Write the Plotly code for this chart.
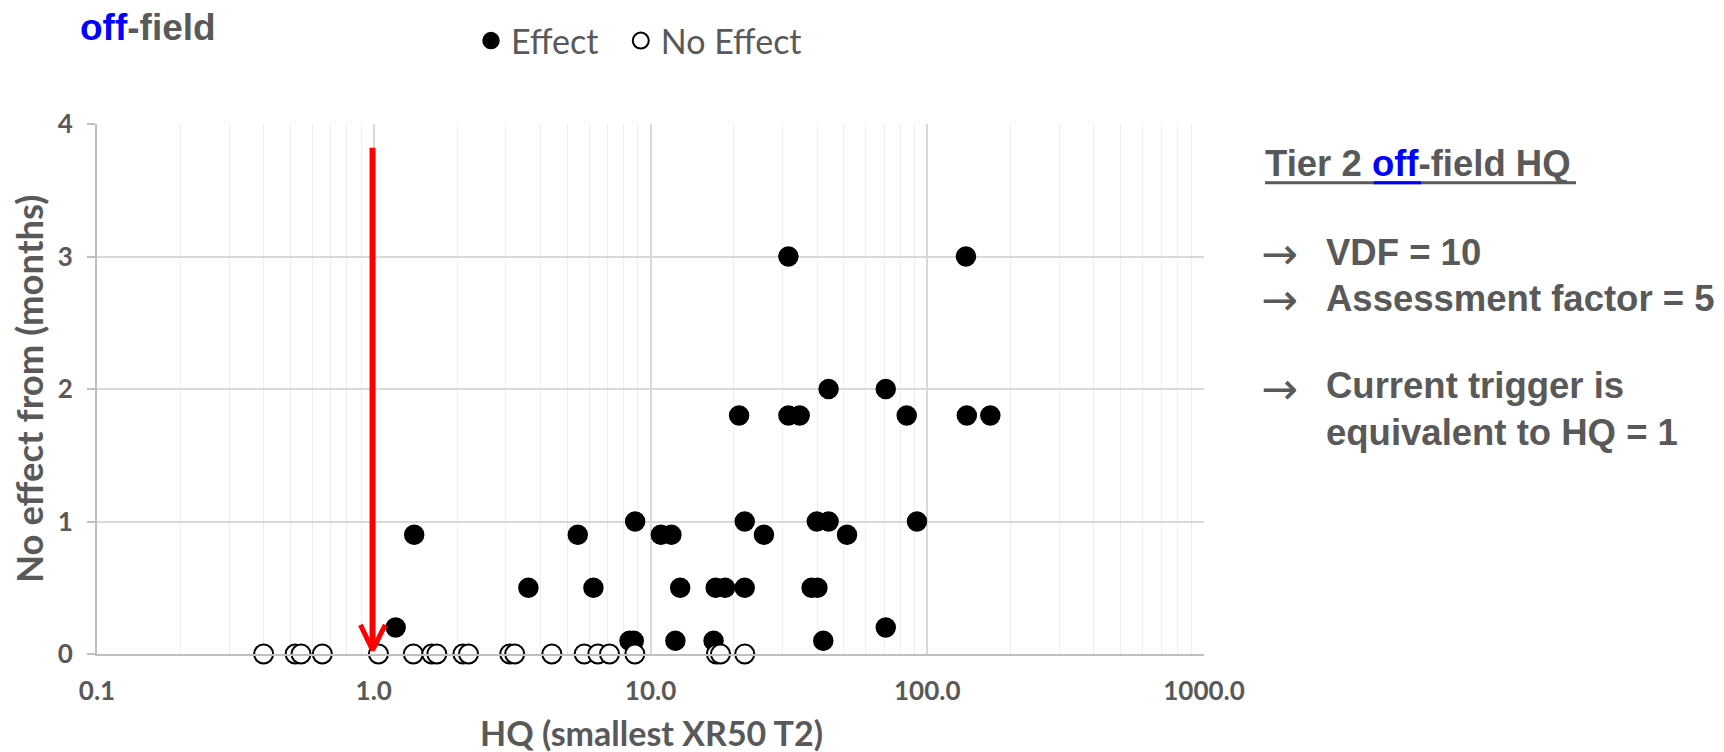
import plotly.graph_objects as go

# ---------------- data ----------------
effect_hq = [31.5, 138, 44.0, 70.8, 20.9, 31.5, 34.6, 84.3, 139, 169,
             8.8, 21.9, 39.9, 44.0, 91.8,
             1.40, 5.46, 10.9, 11.9, 25.7, 51.3,
             3.62, 6.22, 12.8, 17.2, 18.6, 21.9, 38.2, 40.1,
             1.20, 70.8,
             8.4, 8.7, 12.3, 16.9, 42.1]
effect_months = [3, 3, 2, 2, 1.8, 1.8, 1.8, 1.8, 1.8, 1.8,
                 1, 1, 1, 1, 1,
                 0.9, 0.9, 0.9, 0.9, 0.9, 0.9,
                 0.5, 0.5, 0.5, 0.5, 0.5, 0.5, 0.5, 0.5,
                 0.2, 0.2,
                 0.1, 0.1, 0.1, 0.1, 0.1]
noeffect_hq = [0.40, 0.52, 0.546, 0.652, 1.04, 1.39, 1.62, 1.69, 2.10, 2.20,
               3.10, 3.23, 4.40, 5.76, 6.45, 7.11, 8.78, 17.3, 17.9, 21.9]
noeffect_months = [0] * len(noeffect_hq)

x_tick_vals = [0.1, 1, 10, 100, 1000]
x_tick_text = ["0.1", "1.0", "10.0", "100.0", "1000.0"]
y_tick_vals = [0, 1, 2, 3, 4]
x_minor_vals = [m * 10 ** k for k in range(-1, 3) for m in range(2, 10)]

# trigger arrow (HQ = 1)
arrow_x = 0.99
arrow_top = 3.82
arrow_tip = 0.03
head_left, head_right, head_y = 0.895, 1.10, 0.22

# ---------------- layout geometry ----------------
W, H = 1724, 752
L, R, T, B = 97, 1204, 124, 654


def px(p):
    return (p - L) / (R - L)


def py(p):
    return (B - p) / (B - T)


GRAY = "#595959"
BLUE = "#0000ff"
CAL = "Lato"
ARIAL = "Liberation Sans, Arial"
NB = "\u00a0"

fig = go.Figure()
fig.add_trace(go.Scatter(
    x=effect_hq, y=effect_months, mode="markers", name="Effect" + NB * 2,
    marker=dict(size=19, color="black", line=dict(color="black", width=1.5)),
    cliponaxis=False, hoverinfo="skip"))
fig.add_trace(go.Scatter(
    x=noeffect_hq, y=noeffect_months, mode="markers", name="No Effect",
    marker=dict(size=19, color="white", line=dict(color="black", width=2)),
    cliponaxis=False, hoverinfo="skip"))
# red arrow shaft and head
fig.add_trace(go.Scatter(
    x=[arrow_x, arrow_x], y=[arrow_top, arrow_tip + 0.03], mode="lines",
    line=dict(color="#ff0000", width=6), showlegend=False, hoverinfo="skip",
    cliponaxis=False))
fig.add_trace(go.Scatter(
    x=[head_left, arrow_x, head_right], y=[head_y, arrow_tip, head_y], mode="lines",
    line=dict(color="#ff0000", width=5), showlegend=False, hoverinfo="skip",
    cliponaxis=False))

fig.update_layout(
    width=W, height=H,
    margin=dict(l=L, r=W - R, t=T, b=H - B, pad=0),
    paper_bgcolor="white", plot_bgcolor="white",
    showlegend=True,
    legend=dict(orientation="h", x=px(471), y=py(41), xanchor="left", yanchor="middle",
                font=dict(family=CAL, size=34, color=GRAY), bgcolor="rgba(0,0,0,0)"),
    xaxis=dict(type="log", range=[-1, 3], tickvals=x_tick_vals, ticktext=x_tick_text,
               showgrid=True, gridcolor="#d9d9d9", gridwidth=1.5,
               minor=dict(tickvals=x_minor_vals, showgrid=True, gridcolor="#eeeeee", gridwidth=1),
               showline=True, linecolor="#bfbfbf", linewidth=2, zeroline=False,
               ticks="", ticklabelstandoff=13,
               tickfont=dict(family=CAL, size=26, color=GRAY, weight="bold")),
    yaxis=dict(range=[0, 4], tickvals=y_tick_vals, showgrid=True, gridcolor="#d9d9d9", gridwidth=2,
               showline=True, linecolor="#bfbfbf", linewidth=2, zeroline=False,
               ticks="outside", ticklen=8, tickcolor="#bfbfbf", tickwidth=2,
               ticklabelstandoff=9,
               tickfont=dict(family=CAL, size=26, color=GRAY, weight="bold")),
)

ann = []
# axis titles
ann.append(dict(text="No effect from (months)", x=px(29), y=py(389), xref="paper", yref="paper",
                textangle=-90, showarrow=False, xanchor="center", yanchor="middle",
                font=dict(family=CAL, size=36.5, color=GRAY, weight="bold")))
ann.append(dict(text="HQ (smallest XR50 T2)", x=px(651), y=py(732), xref="paper", yref="paper",
                showarrow=False, xanchor="center", yanchor="middle",
                font=dict(family=CAL, size=34, color=GRAY, weight="bold")))
# top-left title
tfs = 37
ann.append(dict(text=f"<span style='color:{BLUE}'>off</span>-field", x=px(79), y=py(40 - 0.35 * tfs),
                xref="paper", yref="paper", showarrow=False, xanchor="left", yanchor="middle",
                borderpad=0, font=dict(family=ARIAL, size=tfs, color=GRAY, weight="bold")))

fs = 36.5
right_lines = [
    (f"Tier 2 <span style='color:{BLUE}'>off</span>-field HQ", 1264, 176.7),
    ("VDF = 10", 1325, 265.7),
    ("Assessment factor = 5", 1325, 311),
    ("Current trigger is", 1325, 398),
    ("equivalent to HQ = 1", 1325, 445),
]
for txt, x0, base in right_lines:
    ann.append(dict(text=txt, x=px(x0), y=py(base - 0.35 * fs), xref="paper", yref="paper",
                    showarrow=False, xanchor="left", yanchor="middle", borderpad=0,
                    font=dict(family=ARIAL, size=fs, color=GRAY, weight="bold")))
for cy in [254, 299, 388]:
    ann.append(dict(text="→", x=px(1260), y=py(cy), xref="paper", yref="paper",
                    showarrow=False, xanchor="left", yanchor="middle", borderpad=0,
                    font=dict(family="DejaVu Sans", size=44, color=GRAY)))
fig.update_layout(annotations=ann)

# underline of the box heading
fig.add_shape(type="line", xref="paper", yref="paper", x0=px(1265), x1=px(1576),
              y0=py(182.7), y1=py(182.7), line=dict(color=GRAY, width=3))
fig.add_shape(type="line", xref="paper", yref="paper", x0=px(1373.7), x1=px(1421),
              y0=py(182.7), y1=py(182.7), line=dict(color=BLUE, width=3))

fig.write_html("out.html", config={"displayModeBar": False})

# remove the browser's default page margin so the figure sits at the window origin
with open("out.html", "r", encoding="utf-8") as f:
    html = f.read()
html = html.replace("<head>", "<head><style>html,body{margin:0;padding:0;overflow:hidden;}</style>", 1)
with open("out.html", "w", encoding="utf-8") as f:
    f.write(html)
